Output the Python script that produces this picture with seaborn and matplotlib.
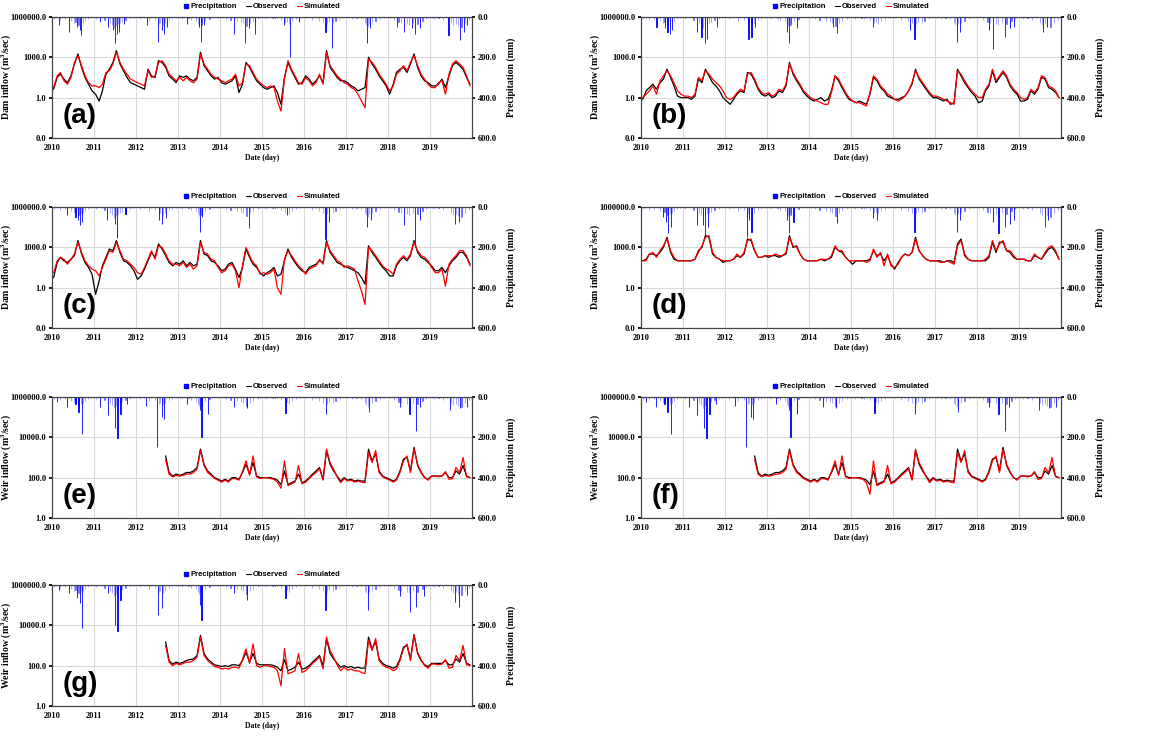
import numpy as np
import pandas as pd
import matplotlib
matplotlib.use('Agg')
import matplotlib.pyplot as plt
from matplotlib.lines import Line2D
from matplotlib.ticker import NullLocator, StrMethodFormatter
import seaborn as sns

# monthly inflow (Jan 2010 .. Dec 2019), m3/sec
a_obs = [4.2, 32, 56, 24, 13, 42, 320, 1800, 180, 32, 10, 3.2,
         1.8, 0.56, 3.2, 56, 130, 420, 3200, 320, 100, 32, 13, 10,
         7.5, 5.6, 4.2, 130, 42, 32, 560, 420, 180, 42, 24, 13,
         42, 32, 42, 24, 18, 32, 2400, 240, 100, 42, 24, 32,
         13, 10, 13, 18, 42, 2.4, 10, 420, 180, 56, 18, 10,
         5.6, 4.2, 5.6, 7.5, 2.4, 0.32, 32, 420, 100, 32, 10, 13,
         42, 24, 10, 18, 42, 13, 3200, 180, 75, 32, 18, 18,
         13, 7.5, 5.6, 3.2, 4.2, 5.6, 1000, 320, 130, 42, 18, 7.5,
         1.8, 10, 75, 130, 180, 75, 320, 1800, 180, 42, 18, 13,
         7.5, 7.5, 10, 24, 5.6, 42, 240, 420, 240, 130, 32, 10]
a_sim = [5.6, 42, 75, 18, 10, 32, 420, 1300, 240, 42, 13, 7.5,
         7.5, 5.6, 10, 75, 100, 320, 2400, 420, 130, 56, 24, 18,
         13, 10, 7.5, 100, 32, 42, 420, 560, 240, 56, 32, 18,
         32, 18, 32, 18, 13, 24, 1800, 320, 130, 56, 32, 24,
         18, 13, 18, 24, 56, 7.5, 13, 320, 240, 75, 24, 13,
         7.5, 5.6, 7.5, 5.6, 0.56, 0.1, 24, 560, 130, 42, 13, 10,
         32, 18, 7.5, 13, 56, 10, 2400, 240, 100, 42, 24, 13,
         10, 5.6, 4.2, 1.8, 0.56, 0.18, 750, 420, 180, 56, 24, 10,
         3.2, 7.5, 56, 100, 240, 100, 420, 1300, 240, 56, 24, 10,
         5.6, 5.6, 13, 18, 1.8, 56, 320, 560, 320, 180, 42, 7.5]

b_obs = [0.75, 3.2, 5.6, 10, 4.2, 13, 24, 130, 32, 7.5, 1.3, 1.0,
         1.0, 1.0, 0.75, 1.3, 24, 13, 130, 42, 13, 7.5, 3.2, 1.0,
         0.56, 0.32, 0.75, 1.8, 3.2, 2.4, 75, 56, 18, 4.2, 1.8, 1.3,
         1.8, 1.0, 1.3, 3.2, 2.4, 7.5, 420, 56, 18, 7.5, 2.4, 1.3,
         0.75, 0.56, 0.75, 1.0, 0.56, 0.75, 3.2, 42, 18, 5.6, 1.8, 0.75,
         0.56, 0.42, 0.56, 0.42, 0.32, 1.8, 32, 18, 5.6, 3.2, 1.3, 1.0,
         0.75, 0.75, 1.0, 1.3, 3.2, 10, 130, 24, 10, 4.2, 1.8, 1.0,
         1.0, 0.75, 0.56, 0.75, 0.32, 0.42, 130, 42, 13, 5.6, 2.4, 1.3,
         0.42, 0.56, 3.2, 7.5, 100, 13, 32, 75, 32, 7.5, 3.2, 1.8,
         0.56, 0.56, 0.75, 3.2, 1.8, 4.2, 32, 24, 5.6, 4.2, 2.4, 1.0]
b_sim = [1.0, 1.8, 3.2, 7.5, 1.8, 18, 42, 100, 42, 13, 3.2, 1.8,
         1.3, 1.3, 1.0, 1.8, 32, 18, 100, 56, 24, 13, 7.5, 3.2,
         1.0, 0.75, 1.0, 2.4, 4.2, 3.2, 56, 75, 24, 5.6, 2.4, 1.8,
         2.4, 1.3, 1.8, 4.2, 3.2, 10, 320, 75, 24, 10, 3.2, 1.8,
         1.0, 0.75, 0.56, 0.42, 0.32, 0.32, 2.4, 42, 24, 7.5, 2.4, 1.0,
         0.56, 0.42, 0.42, 0.32, 0.24, 2.4, 42, 24, 7.5, 4.2, 1.8, 1.3,
         0.75, 0.56, 0.75, 1.3, 3.2, 13, 100, 32, 13, 5.6, 2.4, 1.3,
         1.3, 1.0, 0.75, 0.56, 0.42, 0.32, 100, 56, 18, 7.5, 3.2, 1.8,
         1.0, 1.0, 4.2, 10, 130, 18, 42, 100, 42, 10, 4.2, 2.4,
         1.0, 0.75, 1.0, 4.2, 2.4, 5.6, 42, 32, 7.5, 5.6, 3.2, 1.0]

c_obs = [5.6, 75, 180, 100, 75, 130, 240, 3200, 320, 75, 32, 10,
         0.32, 3.2, 42, 180, 750, 560, 3200, 420, 100, 75, 42, 18,
         4.2, 7.5, 24, 100, 420, 180, 1800, 750, 240, 75, 42, 75,
         56, 100, 42, 75, 42, 56, 3200, 320, 240, 100, 75, 42,
         18, 24, 56, 75, 24, 5.6, 32, 750, 180, 56, 32, 13,
         7.5, 13, 18, 32, 7.5, 10, 100, 750, 180, 75, 32, 18,
         13, 32, 42, 56, 100, 75, 3200, 420, 180, 75, 56, 42,
         32, 24, 18, 13, 5.6, 1.8, 1300, 420, 180, 75, 32, 18,
         7.5, 7.5, 42, 100, 180, 100, 240, 3200, 420, 180, 130, 75,
         42, 18, 18, 32, 13, 42, 100, 180, 420, 420, 180, 56]
c_sim = [13, 100, 180, 130, 56, 130, 320, 2400, 420, 100, 42, 24,
         18, 7.5, 32, 130, 560, 420, 2400, 560, 130, 100, 56, 32,
         13, 10, 32, 130, 560, 130, 1300, 1000, 320, 100, 56, 56,
         42, 75, 32, 56, 24, 42, 2400, 420, 320, 130, 100, 32,
         13, 18, 42, 56, 18, 1.0, 42, 1000, 240, 75, 42, 10,
         13, 10, 13, 24, 1.0, 0.32, 130, 560, 240, 100, 42, 24,
         10, 24, 32, 42, 130, 56, 2400, 560, 240, 100, 75, 32,
         42, 32, 24, 3.2, 0.56, 0.056, 1000, 560, 240, 100, 42, 24,
         18, 10, 56, 130, 240, 130, 320, 2400, 560, 240, 180, 100,
         32, 13, 13, 24, 1.3, 56, 130, 240, 560, 560, 240, 42]

d_obs = [100, 130, 320, 320, 240, 420, 1000, 5600, 420, 130, 100, 100,
         100, 100, 100, 130, 560, 1000, 7500, 5600, 320, 180, 130, 75,
         100, 100, 130, 240, 180, 320, 4200, 3200, 560, 180, 180, 240,
         180, 240, 240, 180, 240, 320, 7500, 1000, 1300, 320, 130, 100,
         100, 100, 100, 130, 100, 130, 180, 1000, 560, 420, 180, 100,
         56, 100, 100, 100, 100, 130, 560, 240, 320, 100, 240, 56,
         24, 75, 180, 320, 240, 420, 5600, 560, 240, 130, 100, 100,
         100, 100, 75, 100, 100, 75, 1800, 4200, 240, 130, 100, 100,
         100, 100, 100, 180, 2400, 420, 2400, 2400, 560, 420, 180, 130,
         130, 130, 100, 100, 240, 180, 130, 320, 750, 1000, 420, 130]
d_sim = [100, 100, 320, 420, 180, 560, 1300, 4200, 560, 180, 100, 100,
         100, 100, 100, 130, 420, 1300, 5600, 7500, 420, 180, 130, 100,
         100, 100, 130, 320, 180, 420, 3200, 4200, 560, 180, 180, 240,
         240, 240, 320, 240, 240, 420, 5600, 1300, 1000, 320, 130, 100,
         100, 100, 100, 130, 130, 130, 240, 1300, 560, 560, 180, 100,
         100, 100, 100, 100, 75, 100, 750, 180, 420, 42, 320, 42,
         32, 56, 180, 320, 240, 420, 4200, 560, 240, 130, 100, 100,
         100, 75, 75, 100, 75, 56, 1300, 3200, 320, 130, 100, 100,
         100, 100, 130, 240, 3200, 560, 1800, 3200, 560, 560, 240, 130,
         130, 130, 100, 100, 320, 180, 130, 420, 1000, 1300, 560, 130]

# weir inflow starts Sep 2012 (Sep 2012 .. Dec 2019)
e_obs = [1200, 180, 120, 150,
         130, 150, 180, 180, 215, 320, 2600, 460, 215, 150, 100, 83,
         68, 83, 68, 100, 100, 83, 180, 460, 150, 560, 120, 100,
         100, 100, 100, 90, 75, 46, 215, 46, 56, 68, 150, 56,
         68, 100, 150, 215, 320, 83, 2200, 460, 215, 120, 68, 100,
         75, 83, 68, 75, 68, 68, 2600, 680, 1500, 215, 120, 100,
         83, 68, 83, 215, 840, 1000, 215, 3200, 400, 180, 100, 83,
         120, 120, 120, 120, 180, 100, 100, 215, 150, 400, 120, 100]
e_sim = [800, 150, 110, 130,
         120, 130, 150, 150, 180, 260, 2200, 400, 180, 130, 90, 75,
         60, 75, 60, 90, 90, 75, 200, 680, 130, 1200, 110, 90,
         100, 100, 90, 83, 60, 30, 680, 40, 50, 60, 400, 50,
         60, 90, 130, 180, 280, 75, 2600, 560, 260, 110, 56, 90,
         68, 75, 60, 68, 60, 56, 1800, 560, 2200, 180, 110, 90,
         75, 60, 75, 180, 680, 1200, 180, 2600, 460, 200, 100, 75,
         120, 120, 110, 120, 200, 83, 90, 320, 180, 1000, 110, 100]

f_obs = [1200, 180, 120, 150,
         130, 150, 180, 180, 215, 320, 2600, 460, 215, 150, 100, 83,
         68, 83, 68, 100, 100, 83, 180, 460, 150, 560, 120, 100,
         100, 100, 100, 90, 75, 46, 215, 46, 56, 68, 150, 56,
         68, 100, 150, 215, 320, 83, 2200, 460, 215, 120, 68, 100,
         75, 83, 68, 75, 68, 68, 2600, 680, 1500, 215, 120, 100,
         83, 68, 83, 215, 840, 1000, 215, 3200, 400, 180, 100, 83,
         120, 120, 120, 120, 180, 100, 100, 215, 150, 400, 120, 100]
f_sim = [800, 150, 110, 130,
         120, 130, 150, 150, 180, 260, 2200, 400, 180, 130, 90, 75,
         60, 75, 60, 90, 90, 75, 200, 680, 130, 1200, 110, 90,
         100, 100, 90, 83, 56, 15, 680, 40, 50, 60, 400, 50,
         60, 90, 130, 180, 280, 75, 2600, 560, 260, 110, 56, 90,
         68, 75, 60, 68, 60, 56, 1800, 560, 2200, 180, 110, 90,
         75, 60, 75, 180, 680, 1200, 180, 2600, 460, 200, 100, 75,
         120, 120, 110, 120, 200, 83, 90, 320, 180, 1000, 110, 100]

g_obs = [1500, 180, 120, 150,
         130, 150, 180, 200, 215, 320, 3200, 400, 215, 150, 110, 100,
         90, 100, 90, 110, 110, 100, 180, 460, 150, 400, 130, 110,
         110, 110, 110, 100, 83, 56, 200, 56, 68, 83, 150, 68,
         75, 100, 150, 215, 320, 100, 2200, 400, 215, 130, 83, 100,
         83, 90, 75, 83, 75, 75, 2600, 680, 1500, 215, 130, 100,
         90, 75, 90, 215, 840, 1000, 215, 3500, 400, 180, 110, 90,
         130, 130, 130, 130, 180, 110, 110, 215, 150, 400, 130, 110]
g_sim = [1000, 150, 100, 130,
         110, 130, 150, 150, 180, 260, 2600, 320, 180, 130, 90, 83,
         68, 75, 68, 83, 83, 75, 200, 680, 130, 1200, 100, 83,
         100, 100, 90, 83, 56, 10, 700, 40, 46, 56, 400, 46,
         56, 83, 130, 180, 280, 68, 2600, 560, 260, 110, 56, 83,
         60, 68, 56, 56, 46, 40, 1800, 560, 2200, 180, 110, 83,
         75, 56, 68, 180, 680, 1200, 180, 3200, 460, 200, 100, 75,
         120, 120, 110, 120, 200, 75, 83, 320, 180, 1000, 110, 100]

# larger precipitation events per panel (decimal year, mm)
a_rain_yr = [2010.16, 2010.40, 2010.60, 2010.66, 2010.70, 2011.15, 2011.33, 2011.45, 2011.49,
             2011.55, 2011.59, 2011.71, 2012.26, 2012.52, 2012.62, 2012.66, 2012.74, 2013.21,
             2013.49, 2013.54, 2013.61, 2014.33, 2014.60, 2014.68, 2014.84, 2015.52, 2015.67,
             2015.87, 2016.51, 2016.67, 2017.50, 2017.58, 2018.21, 2018.37, 2018.57, 2018.65,
             2018.77, 2019.44, 2019.72, 2019.80, 2019.88]
a_rain_mm = [41, 74, 49, 66, 87, 25, 49, 66, 128, 82, 74, 33, 41, 123, 66, 82, 49, 33,
             49, 123, 41, 82, 128, 57, 82, 41, 200, 25, 74, 156, 131, 57, 49, 74, 57, 82,
             57, 90, 115, 74, 41]
b_rain_yr = [2010.37, 2010.57, 2010.63, 2010.69, 2010.73, 2011.34, 2011.44, 2011.52, 2011.58,
             2011.80, 2012.56, 2012.63, 2012.71, 2013.47, 2013.53, 2013.71, 2014.58, 2014.66,
             2015.53, 2016.40, 2016.51, 2017.52, 2017.60, 2018.29, 2018.39, 2018.67, 2018.79,
             2018.87, 2019.58, 2019.66]
b_rain_mm = [49, 57, 74, 82, 66, 74, 98, 131, 107, 49, 107, 98, 49, 74, 131, 57, 49, 79,
             49, 66, 107, 123, 74, 66, 161, 98, 57, 49, 74, 49]
c_rain_yr = [2010.36, 2010.56, 2010.61, 2010.67, 2010.71, 2011.31, 2011.51, 2011.55, 2011.75,
             2012.54, 2012.62, 2012.72, 2013.53, 2013.57, 2014.68, 2015.60, 2016.51, 2016.59,
             2017.50, 2017.60, 2018.37, 2018.65, 2018.77, 2019.60, 2019.68]
c_rain_mm = [41, 49, 66, 90, 74, 66, 82, 156, 33, 66, 82, 57, 123, 49, 102, 41, 161, 74,
             98, 66, 90, 189, 66, 82, 74]
d_rain_yr = [2010.53, 2010.60, 2010.65, 2010.71, 2011.33, 2011.48, 2011.52, 2011.60, 2012.52,
             2012.58, 2012.63, 2013.47, 2013.53, 2013.63, 2014.66, 2015.53, 2015.61, 2016.51,
             2017.52, 2017.60, 2018.37, 2018.51, 2018.67, 2018.79, 2018.87, 2019.62, 2019.68]
d_rain_mm = [49, 74, 131, 98, 90, 90, 139, 98, 148, 66, 123, 66, 131, 74, 77, 57, 66, 123,
             123, 66, 74, 131, 98, 82, 66, 98, 66]
e_rain_yr = [2010.12, 2010.36, 2010.56, 2010.63, 2010.72, 2011.15, 2011.33, 2011.51, 2011.56,
             2011.63, 2011.79, 2012.24, 2012.50, 2012.62, 2012.67, 2013.21, 2013.52, 2013.56,
             2013.71, 2014.33, 2014.64, 2015.56, 2016.52, 2017.54, 2018.29, 2018.51, 2018.67,
             2018.77, 2019.48, 2019.72, 2019.88]
e_rain_mm = [25, 49, 33, 74, 184, 49, 90, 156, 202, 82, 33, 46, 246, 98, 107, 33, 66, 200,
             82, 49, 57, 79, 82, 74, 49, 82, 167, 49, 66, 57, 49]
g_rain_yr = [2010.16, 2010.40, 2010.60, 2010.66, 2010.72, 2011.33, 2011.51, 2011.56, 2011.63,
             2012.52, 2012.62, 2013.53, 2013.56, 2014.33, 2014.64, 2015.56, 2016.51, 2017.52,
             2018.29, 2018.52, 2018.67, 2018.85, 2019.60, 2019.68, 2019.88]
g_rain_mm = [25, 41, 66, 90, 213, 41, 198, 229, 74, 147, 115, 99, 172, 41, 74, 66, 122, 122,
             57, 132, 107, 57, 82, 107, 49]

# smaller rain days that show in every panel's strip (decimal year, mm)
light_rain_yr = [2010.05, 2010.20, 2010.30, 2010.45, 2010.52, 2010.56, 2010.63, 2010.68, 2010.74, 2010.78, 2010.85,
                 2011.05, 2011.25, 2011.38, 2011.42, 2011.47, 2011.52, 2011.57, 2011.62, 2011.66, 2011.75, 2011.85,
                 2012.10, 2012.30, 2012.45, 2012.55, 2012.58, 2012.64, 2012.70, 2012.78, 2012.85,
                 2013.10, 2013.30, 2013.42, 2013.47, 2013.51, 2013.56, 2013.58, 2013.65, 2013.75,
                 2014.15, 2014.25, 2014.40, 2014.50, 2014.55, 2014.63, 2014.72, 2014.78, 2014.90,
                 2015.10, 2015.30, 2015.45, 2015.55, 2015.60, 2015.64, 2015.72, 2015.80,
                 2016.20, 2016.35, 2016.45, 2016.55, 2016.60, 2016.70, 2016.75, 2016.85,
                 2017.15, 2017.35, 2017.45, 2017.48, 2017.53, 2017.55, 2017.62, 2017.70, 2017.80,
                 2018.15, 2018.25, 2018.30, 2018.45, 2018.50, 2018.60, 2018.70, 2018.82, 2018.90,
                 2019.10, 2019.30, 2019.50, 2019.55, 2019.62, 2019.66, 2019.75, 2019.84, 2019.92,
                 2010.12, 2010.40, 2010.92, 2011.20, 2011.92, 2012.20, 2012.35, 2012.95, 2013.05,
                 2013.25, 2013.85, 2013.95, 2014.05, 2014.35, 2014.95, 2015.05, 2015.25, 2015.35,
                 2015.90, 2016.05, 2016.28, 2016.92, 2017.05, 2017.25, 2017.90, 2018.05, 2018.38,
                 2018.95, 2019.05, 2019.20, 2019.40, 2019.97]
light_rain_mm = [10, 15, 12, 20, 30, 25, 40, 35, 30, 20, 12,
                 8, 15, 30, 40, 55, 45, 35, 30, 25, 15, 10,
                 8, 20, 15, 35, 30, 40, 30, 15, 10,
                 10, 15, 20, 35, 45, 40, 30, 20, 12,
                 10, 15, 20, 25, 30, 45, 30, 20, 10,
                 8, 12, 15, 30, 25, 35, 20, 12,
                 15, 20, 30, 35, 25, 30, 20, 10,
                 10, 12, 30, 40, 50, 35, 30, 20, 10,
                 15, 25, 30, 35, 40, 30, 35, 20, 12,
                 10, 15, 30, 40, 35, 45, 50, 30, 15,
                 5, 6, 4, 5, 4, 5, 6, 4, 5,
                 6, 4, 5, 4, 6, 5, 4, 5, 6,
                 4, 5, 6, 4, 5, 6, 4, 5, 6,
                 4, 5, 6, 5, 4]

dam_dates = pd.date_range('2010-01-01', '2019-12-01', freq='MS') + pd.Timedelta(days=14)
weir_dates = pd.date_range('2012-09-01', '2019-12-01', freq='MS') + pd.Timedelta(days=14)


def year_to_date(yrs):
    return pd.Timestamp('2010-01-01') + pd.to_timedelta((np.array(yrs) - 2010) * 365.25, unit='D')


sns.set_theme(style='white')
plt.rcParams['font.family'] = ['Liberation Serif', 'DejaVu Serif']
plt.rcParams['font.weight'] = 'bold'
plt.rcParams['axes.labelweight'] = 'bold'
plt.rcParams['mathtext.default'] = 'regular'
plt.rcParams['text.color'] = 'black'
plt.rcParams['axes.labelcolor'] = 'black'
plt.rcParams['xtick.color'] = 'black'
plt.rcParams['ytick.color'] = 'black'

fig = plt.figure(figsize=(11.61, 7.36), dpi=100)

W, H = 1161, 736
col_left = [52, 641]
row_top = [17, 207, 397, 585]


def make_ax(col, row):
    left = col_left[col] / W
    bottom = 1 - (row_top[row] + 121) / H
    return fig.add_axes([left, bottom, 420 / W, 121 / H])


def draw_panel(ax, dates, obs, sim, rain_yr, rain_mm, letter, kind):
    df = pd.DataFrame({'date': dates, 'Observed': obs, 'Simulated': sim})
    sns.lineplot(data=df, x='date', y='Observed', ax=ax, color='black', lw=0.9)
    sns.lineplot(data=df, x='date', y='Simulated', ax=ax, color='red', lw=0.9)
    ax.set_yscale('log')
    if kind == 'dam':
        ax.set_ylim(1e-3, 1e6)
        ax.set_yticks([1e-3, 1, 1e3, 1e6])
        ax.set_ylabel('Dam inflow (m$^3$/sec)', fontsize=7)
    else:
        ax.set_ylim(1, 1e6)
        ax.set_yticks([1, 1e2, 1e4, 1e6])
        ax.set_ylabel('Weir inflow (m$^3$/sec)', fontsize=7)
    ax.yaxis.set_major_formatter(StrMethodFormatter('{x:.1f}'))
    ax.yaxis.set_minor_locator(NullLocator())
    ax.yaxis.set_label_coords(-0.093, 0.5)

    years = [pd.Timestamp(f'{y}-01-01') for y in range(2010, 2020)]
    ax.set_xlim(pd.Timestamp('2010-01-01'), pd.Timestamp('2020-01-01'))
    ax.set_xticks(years)
    ax.set_xticklabels([str(y) for y in range(2010, 2020)])
    ax.set_xlabel('Date (day)', fontsize=5.5)
    ax.xaxis.set_label_coords(0.5, -0.13)
    ax.grid(True, color='#d9d9d9', lw=0.8)
    ax.tick_params(axis='both', labelsize=6, length=2, pad=2)

    ax2 = ax.twinx()
    ax2.bar(year_to_date(light_rain_yr), light_rain_mm, width=1, color='blue',
            edgecolor='blue', linewidth=0.4, alpha=0.6)
    ax2.bar(year_to_date(rain_yr), rain_mm, width=1, color='blue', edgecolor='blue', linewidth=0.6)
    ax2.set_ylim(600, 0)
    ax2.set_yticks([0, 200, 400, 600])
    ax2.yaxis.set_major_formatter(StrMethodFormatter('{x:.1f}'))
    ax2.set_ylabel('Precipitation (mm)', fontsize=7)
    ax2.yaxis.set_label_coords(1.083, 0.5)
    ax2.tick_params(axis='y', labelsize=6, length=2, pad=2)
    ax2.grid(False)

    for a in (ax, ax2):
        for s in a.spines.values():
            s.set_color('#444444')
            s.set_linewidth(0.8)

    ax.text(0.026, 0.18, letter, transform=ax.transAxes, fontsize=20, fontweight='bold',
            family='Liberation Sans', color='black', ha='left', va='center', zorder=5)

    handles = [Line2D([], [], marker='s', ls='none', color='blue', markersize=3.5),
               Line2D([], [], color='black', lw=0.8),
               Line2D([], [], color='red', lw=0.8)]
    ax.legend(handles, ['Precipitation', 'Observed', 'Simulated'], loc='center',
              bbox_to_anchor=(0.5, 1.085), ncol=3, frameon=False,
              prop={'family': 'Liberation Sans', 'weight': 'bold', 'size': 5.5},
              handlelength=0.7, handletextpad=0.2, columnspacing=1.2, borderaxespad=0)


draw_panel(make_ax(0, 0), dam_dates, a_obs, a_sim, a_rain_yr, a_rain_mm, '(a)', 'dam')
draw_panel(make_ax(1, 0), dam_dates, b_obs, b_sim, b_rain_yr, b_rain_mm, '(b)', 'dam')
draw_panel(make_ax(0, 1), dam_dates, c_obs, c_sim, c_rain_yr, c_rain_mm, '(c)', 'dam')
draw_panel(make_ax(1, 1), dam_dates, d_obs, d_sim, d_rain_yr, d_rain_mm, '(d)', 'dam')
draw_panel(make_ax(0, 2), weir_dates, e_obs, e_sim, e_rain_yr, e_rain_mm, '(e)', 'weir')
draw_panel(make_ax(1, 2), weir_dates, f_obs, f_sim, e_rain_yr, e_rain_mm, '(f)', 'weir')
draw_panel(make_ax(0, 3), weir_dates, g_obs, g_sim, g_rain_yr, g_rain_mm, '(g)', 'weir')

fig.savefig('out.png', dpi=100)
